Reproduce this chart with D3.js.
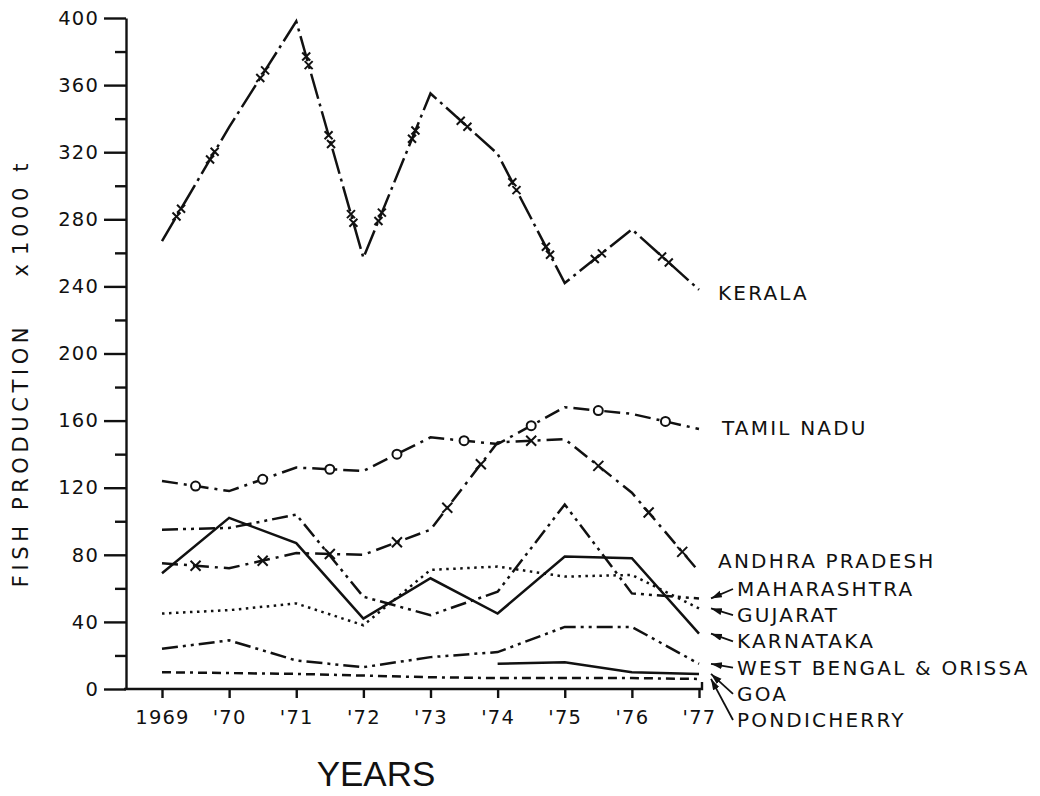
<!DOCTYPE html>
<html>
<head>
<meta charset="utf-8">
<script src="https://cdn.jsdelivr.net/npm/d3@7/dist/d3.min.js"></script>
<style>
	body { margin: 0; background: #fff; }
	svg text { font-family: "DejaVu Sans", sans-serif; fill: #111; }
	.axis path, .axis line { stroke: #111; stroke-width: 2.4px; }
	.axis text { font-size: 19.5px; letter-spacing: 1.2px; }
	.series { fill: none; stroke: #111; stroke-width: 2.5px; }
	.mark { stroke: #111; stroke-width: 2px; fill: #fff; }
	.label { font-size: 20px; letter-spacing: 2.2px; }
	.ytitle { font-size: 21px; letter-spacing: 4.6px; }
</style>
</head>
<body>
<div id="chart"></div>
<script>
// data (fish production x 1000 t)
var years = [1969, 1970, 1971, 1972, 1973, 1974, 1975, 1976, 1977];
var yearLabels = ["1969", "'70", "'71", "'72", "'73", "'74", "'75", "'76", "'77"];
var kerala      = [267, 335, 398, 257, 355, 319, 242, 274, 238];
var tamilNadu   = [124, 118, 132, 130, 150, 146, 168, 164, 155];
var andhra      = [75, 72, 81, 80, 95, 147, 149, 117, 70];
var maharashtra = [95, 96, 104, 55, 44, 58, 110, 57, 54];
var gujarat     = [45, 47, 51, 38, 71, 73, 67, 68, 48];
var karnataka   = [69, 102, 87, 42, 66, 45, 79, 78, 33];
var westBengal  = [24, 29, 17, 13, 19, 22, 37, 37, 15];
var goa         = [null, null, null, null, null, 15, 16, 10, 9];
var pondicherry = [10, 9.5, 9, 8, 7, 6.5, 6.5, 6.5, 6];
var names = ["KERALA", "TAMIL NADU", "ANDHRA PRADESH", "MAHARASHTRA", "GUJARAT",
	"KARNATAKA", "WEST BENGAL & ORISSA", "GOA", "PONDICHERRY"];
var yTicks = [0, 40, 80, 120, 160, 200, 240, 280, 320, 360, 400];

var allValues = [kerala, tamilNadu, andhra, maharashtra, gujarat, karnataka, westBengal, goa, pondicherry];

// styles for each line (same order as names)
var dashes = ["26,5,3,5", "16,6,3,6", "16,6,3,6", "16,5,3,5,3,5", "2.5,4.5",
	null, "16,5,3,5,3,5", null, "9,5,9,5,3,5"];
var markers = ["xx", "o", "x", null, null, null, null, null, null];
var markSpacing = { xx: 85, o: 70, x: 60 };

var series = names.map(function(n, i) {
	return {
		name: n,
		values: years.map(function(yr, j) { return { year: yr, v: allValues[i][j] }; }),
		dash: dashes[i],
		marker: markers[i]
	};
});

var svg = d3.select("#chart").append("svg")
	.attr("width", 1040).attr("height", 796);

var x = d3.scaleLinear().domain([1969, 1977]).range([162, 699]);
var y = d3.scaleLinear().domain([0, 400]).range([689, 18]);
var axisX = 126;

// arrow head
svg.append("defs").append("marker")
	.attr("id", "arrow").attr("markerUnits", "userSpaceOnUse")
	.attr("markerWidth", 12).attr("markerHeight", 8)
	.attr("refX", 11).attr("refY", 3.5).attr("orient", "auto")
	.append("path").attr("d", "M0,0L11,3.5L0,7Z").attr("fill", "#111");

// y axis, major and minor ticks
svg.append("g").attr("class", "axis")
	.attr("transform", "translate(" + axisX + ",0)")
	.call(d3.axisLeft(y).tickValues(yTicks).tickSize(22).tickPadding(5).tickSizeOuter(0));
svg.append("g").attr("class", "axis minor")
	.attr("transform", "translate(" + axisX + ",0)")
	.call(d3.axisLeft(y).tickValues(d3.range(20, 400, 40)).tickSize(11).tickFormat(""))
	.select(".domain").remove();

// x axis
var gx = svg.append("g").attr("class", "axis")
	.attr("transform", "translate(0," + y(0) + ")")
	.call(d3.axisBottom(x).tickValues(years).tickSize(9).tickPadding(12)
		.tickFormat(function(d, i) { return yearLabels[i]; }));
gx.select(".domain").remove();
gx.append("path").attr("d", "M" + (axisX - 2) + ",0H" + (x(1977) + 3) + "V-7")
	.attr("fill", "none");

// titles (y title in three pieces, as spaced in the figure)
[["FISH PRODUCTION", 455], ["x", 268], ["1000 t", 207]].forEach(function(p) {
	svg.append("text").attr("class", "ytitle")
		.attr("transform", "translate(28," + p[1] + ") rotate(-90)")
		.attr("text-anchor", "middle")
		.text(p[0]);
});
svg.append("text")
	.attr("x", 376).attr("y", 786).attr("text-anchor", "middle")
	.style("font-family", "'Liberation Sans', Arial, sans-serif").style("font-size", "35px")
	.text("YEARS");

// lines
var line = d3.line()
	.defined(function(d) { return d.v != null; })
	.x(function(d) { return x(d.year); })
	.y(function(d) { return y(d.v); });

series.forEach(function(s) {
	svg.append("path").datum(s.values)
		.attr("class", "series")
		.attr("d", line)
		.style("stroke-dasharray", s.dash);

	if (!s.marker) return;
	// spread marks along each segment
	var pts = s.values.filter(function(d) { return d.v != null; })
		.map(function(d) { return [x(d.year), y(d.v)]; });
	var spots = [];
	for (var k = 0; k < pts.length - 1; k++) {
		var a = pts[k], b = pts[k + 1];
		var len = Math.hypot(b[0] - a[0], b[1] - a[1]);
		var n = Math.max(1, Math.round(len / markSpacing[s.marker]));
		for (var m = 0; m < n; m++) {
			var t = (m + 0.5) / n;
			spots.push({ x: a[0] + (b[0] - a[0]) * t, y: a[1] + (b[1] - a[1]) * t,
				ux: (b[0] - a[0]) / len, uy: (b[1] - a[1]) / len });
		}
	}
	var g = svg.append("g");
	spots.forEach(function(p) {
		if (s.marker === "o") {
			g.append("circle").attr("class", "mark")
				.attr("cx", p.x).attr("cy", p.y).attr("r", 4.5);
			return;
		}
		var offs = s.marker === "xx" ? [-4.5, 4.5] : [0];
		var r = s.marker === "xx" ? 4 : 5;
		offs.forEach(function(o) {
			var cx = p.x + p.ux * o, cy = p.y + p.uy * o;
			g.append("path").attr("class", "mark")
				.attr("d", "M" + (cx - r) + "," + (cy - r) + "L" + (cx + r) + "," + (cy + r) +
					"M" + (cx - r) + "," + (cy + r) + "L" + (cx + r) + "," + (cy - r));
		});
	});
});

// labels at the right
var topLabels = [{ x: 718, dy: 10 }, { x: 722, dy: 6 }, { x: 718, dy: -4 }];
series.forEach(function(s, i) {
	var last = s.values[s.values.length - 1].v;
	var lx, base;
	if (i < 3) {
		lx = topLabels[i].x;
		base = y(last) + topLabels[i].dy;
	} else {
		lx = 737;
		base = 596 + (i - 3) * 26.2;
		svg.append("line")
			.attr("x1", lx - 4).attr("y1", base - 7)
			.attr("x2", x(1977) + 12).attr("y2", y(last))
			.attr("stroke", "#111").attr("stroke-width", 1.8)
			.attr("marker-end", "url(#arrow)");
	}
	svg.append("text").attr("class", "label")
		.attr("x", lx).attr("y", base)
		.text(s.name);
});
</script>
</body>
</html>
